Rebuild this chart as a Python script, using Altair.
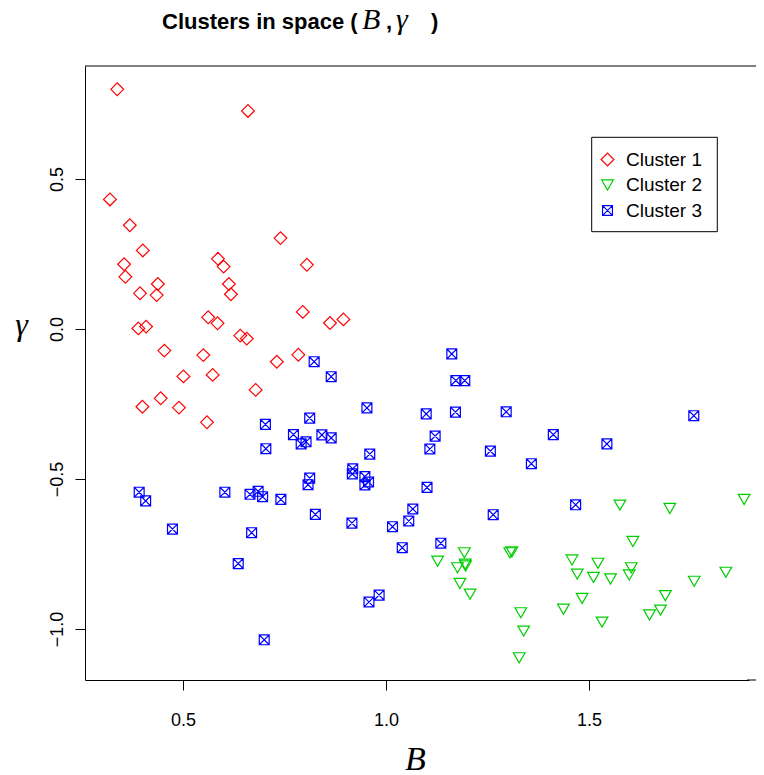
import altair as alt
import pandas as pd

# ---- data ----
c1_B = [0.338, 0.660, 0.320, 0.369, 0.401, 0.740, 0.355, 0.586, 0.600, 0.805, 0.358,
        0.438, 0.394, 0.435, 0.613, 0.618, 0.795, 0.862, 0.895, 0.562, 0.585, 0.390,
        0.409, 0.641, 0.657, 0.454, 0.550, 0.784, 0.731, 0.501, 0.573, 0.679, 0.445,
        0.400, 0.490, 0.559]
c1_g = [0.799, 0.727, 0.432, 0.346, 0.262, 0.303, 0.216, 0.234, 0.208, 0.214, 0.174,
        0.150, 0.119, 0.113, 0.150, 0.116, 0.057, 0.020, 0.032, 0.039, 0.019, 0.002,
        0.008, -0.022, -0.032, -0.072, -0.087, -0.086, -0.109, -0.158, -0.153, -0.203,
        -0.231, -0.259, -0.262, -0.311]

c2_B = [1.193, 1.127, 1.176, 1.195, 1.196, 1.182, 1.207, 1.305, 1.310, 1.332, 1.339,
        1.328, 1.576, 1.699, 1.882, 1.608, 1.458, 1.522, 1.471, 1.511, 1.553, 1.604,
        1.599, 1.837, 1.759, 1.688, 1.483, 1.437, 1.676, 1.649, 1.532]
c2_g = [-0.746, -0.774, -0.796, -0.784, -0.790, -0.848, -0.884, -0.746, -0.743, -0.946,
        -1.007, -1.096, -0.587, -0.598, -0.568, -0.708, -0.770, -0.781, -0.817, -0.828,
        -0.833, -0.796, -0.820, -0.811, -0.841, -0.889, -0.898, -0.934, -0.937, -0.953,
        -0.977]

c3_B = [0.823, 0.865, 0.812, 0.703, 0.772, 0.791, 0.803, 0.842, 0.865, 0.704, 0.812,
        0.808, 0.392, 0.408, 0.603, 0.665, 0.685, 0.696, 0.741, 0.826, 0.474, 0.669,
        0.636, 0.700, 1.162, 1.172, 1.194, 0.953, 1.099, 1.171, 1.296, 1.412, 1.121,
        1.108, 0.960, 1.257, 1.358, 0.918, 0.917, 0.948, 0.957, 0.948, 1.101, 1.066,
        1.264, 0.916, 1.056, 1.016, 1.040, 1.135, 0.983, 0.958, 1.758, 1.544, 1.467]
c3_g = [-0.109, -0.159, -0.297, -0.318, -0.352, -0.383, -0.376, -0.353, -0.363, -0.399,
        -0.497, -0.519, -0.544, -0.573, -0.544, -0.551, -0.541, -0.559, -0.568, -0.618,
        -0.667, -0.679, -0.782, -1.036, -0.083, -0.172, -0.172, -0.263, -0.283, -0.277,
        -0.276, -0.352, -0.357, -0.400, -0.417, -0.407, -0.449, -0.466, -0.483, -0.492,
        -0.510, -0.520, -0.528, -0.600, -0.619, -0.647, -0.640, -0.659, -0.729, -0.714,
        -0.887, -0.910, -0.289, -0.383, -0.586]

clusters = ["Cluster 1", "Cluster 2", "Cluster 3"]
x_ticks = [0.5, 1.0, 1.5]
y_ticks = [0.5, 0.0, -0.5, -1.0]

rows = []
for name, bs, gs in zip(clusters, [c1_B, c2_B, c3_B], [c1_g, c2_g, c3_g]):
    for b, g in zip(bs, gs):
        rows.append({"B": b, "gamma": g, "cluster": name})
df = pd.DataFrame(rows)

# ---- styling ----
colors = ["#FF0000", "#00CD00", "#0000FF"]
shapes = [
    "M-0.98,0L0,-0.98L0.98,0L0,0.98Z",
    "M-0.9,-0.78L0.9,-0.78L0,0.78Z",
    "M-0.76,-0.76L0.76,-0.76L0.76,0.76L-0.76,0.76Z M-0.76,-0.76L0.76,0.76 M0.76,-0.76L-0.76,0.76",
]
W, H = 664, 614
EXT = 7
x_domain = [0.2586, 1.894]
y_domain = [-1.17, 0.8767]
SANS = "Liberation Sans"
SERIF = "Liberation Serif"

points = alt.Chart(df).mark_point(filled=False, strokeWidth=1.2, opacity=1, size=169).encode(
    x=alt.X("B:Q",
            scale=alt.Scale(domain=x_domain, nice=False, zero=False),
            axis=alt.Axis(values=x_ticks, format=".1f", title="B",
                          titleFont=SERIF, titleFontStyle="italic", titleFontWeight="normal",
                          titleFontSize=34, titleColor="black",
                          titleX=330, titleY=89, titleAlign="center", titleBaseline="alphabetic",
                          labelFont=SANS, labelFontSize=18, labelColor="black",
                          labelBaseline="alphabetic", labelPadding=35,
                          tickSize=10, tickColor="black", domainColor="black",
                          grid=False, labelFlush=False)),
    y=alt.Y("gamma:Q",
            scale=alt.Scale(domain=y_domain, nice=False, zero=False),
            axis=alt.Axis(values=y_ticks, format=".1f", title="γ",
                          titleFont=SERIF, titleFontStyle="italic", titleFontWeight="normal",
                          titleFontSize=32, titleColor="black", titleAngle=0,
                          titleX=-64, titleY=258, titleAlign="center", titleBaseline="middle",
                          labelFont=SANS, labelFontSize=18, labelColor="black",
                          labelAngle=270, labelAlign="center", labelBaseline="alphabetic",
                          labelPadding=13,
                          tickSize=10, tickColor="black", domainColor="black",
                          grid=False, labelFlush=False)),
    color=alt.Color("cluster:N", scale=alt.Scale(domain=clusters, range=colors),
                    legend=alt.Legend(title=None, orient="none", legendX=513, legendY=84,
                                      labelFont=SANS, labelFontSize=19, labelColor="black",
                                      labelOffset=9, rowPadding=5.5, padding=0,
                                      symbolSize=169, symbolStrokeWidth=1.2)),
    shape=alt.Shape("cluster:N", scale=alt.Scale(domain=clusters, range=shapes)),
)

one = pd.DataFrame({"k": [0]})

legend_box = alt.Chart(one).mark_rect(fill="white", stroke="black", strokeWidth=1).encode(
    x=alt.value(506.7), x2=alt.value(632.3), y=alt.value(71.3), y2=alt.value(165.7)
)

# white cover over the right edge of the cell (the reference's frame runs off the picture)
right_cover = alt.Chart(one).mark_rule(color="white", strokeWidth=3).encode(
    x=alt.value(W), y=alt.value(1.5), y2=alt.value(H - 1.5)
)

top_border = alt.Chart(one).mark_rule(color="black", strokeWidth=1).encode(
    x=alt.value(0), x2=alt.value(W + EXT), y=alt.value(0)
)
bottom_border = alt.Chart(one).mark_rule(color="black", strokeWidth=1).encode(
    x=alt.value(W - 2), x2=alt.value(W + EXT), y=alt.value(H)
)

def txt(s, x, font, size, weight="normal", style="normal"):
    return alt.Chart(one).mark_text(
        align="left", baseline="alphabetic", font=font, fontSize=size,
        fontWeight=weight, fontStyle=style, color="black"
    ).encode(x=alt.value(x), y=alt.value(-37), text=alt.value(s))

title_parts = [
    txt("Clusters in space (", 77, SANS, 22, weight="bold"),
    txt("B", 277, SERIF, 30, style="italic"),
    txt(",", 301, SANS, 22, weight="bold"),
    txt("γ", 311, SERIF, 30, style="italic"),
    txt(")", 346, SANS, 22, weight="bold"),
]

chart = alt.layer(legend_box, right_cover, points, top_border, bottom_border,
                  *title_parts).properties(
    width=W, height=H,
    autosize=alt.AutoSizeParams(type="none"),
    padding={"left": 77, "top": 58, "right": EXT, "bottom": 95},
    background="white",
    view=alt.ViewBackground(stroke="transparent", strokeWidth=0),
).configure_view(stroke="transparent", strokeWidth=0)

chart.save("out.html", embed_options={"renderer": "svg", "actions": False})
